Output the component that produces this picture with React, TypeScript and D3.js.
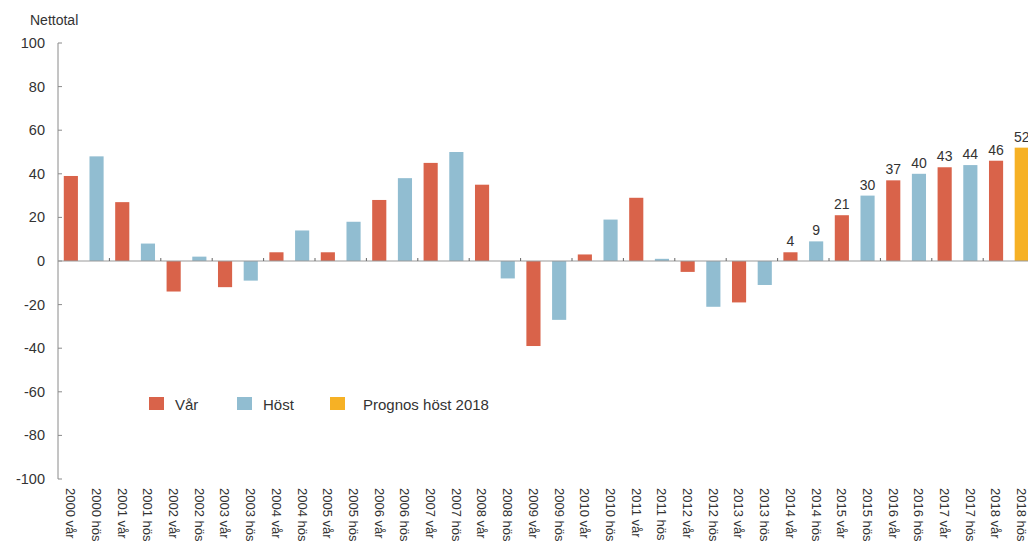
import * as d3 from 'd3';

const YEARS = d3.range(2000, 2019);
const CATEGORIES = YEARS.flatMap(y => [`${y} vår`, `${y} hös`]);

// nettotal per halvår, vår/höst omväxlande
const VALUES = [
  39, 48, 27, 8, -14, 2, -12, -9, 4, 14,
  4, 18, 28, 38, 45, 50, 35, -8, -39, -27,
  3, 19, 29, 1, -5, -21, -19, -11, 4, 9,
  21, 30, 37, 40, 43, 44, 46, 52,
];
const LABEL_FROM = '2014 vår';
const Y_TICKS = [100, 80, 60, 40, 20, 0, -20, -40, -60, -80, -100];

const LEGEND = [
  { label: 'Vår', color: '#d9634a', x: 149, tx: 175 },
  { label: 'Höst', color: '#91bdd1', x: 237, tx: 263 },
  { label: 'Prognos höst 2018', color: '#f6b125', x: 330, tx: 363 },
];

const W = 1028;
const H = 544;
const FONT = '"Liberation Sans", Arial, sans-serif';

const barColor = (i: number) => {
  if (i === CATEGORIES.length - 1) return LEGEND[2].color;
  return i % 2 === 0 ? LEGEND[0].color : LEGEND[1].color;
};

export default function App() {
  const left = 58;
  const step = 25.7;
  const x = d3.scaleBand<string>()
    .domain(CATEGORIES)
    .range([left, left + step * CATEGORIES.length])
    .paddingInner(0.45)
    .paddingOuter(0.225);
  const y = d3.scaleLinear().domain([-100, 100]).range([479, 43]);
  const labelStart = CATEGORIES.indexOf(LABEL_FROM);

  return (
    <svg width={W} height={H} style={{ position: 'absolute', left: 0, top: 0, fontFamily: FONT }}>
      <rect width={W} height={H} fill="#fff" />

      <text x={30} y={25} fontSize={14} fill="#333">Nettotal</text>

      {/* y axis */}
      <line x1={left} x2={left} y1={y(100)} y2={y(-100)} stroke="#8a8a8a" />
      {Y_TICKS.map(t => (
        <g key={t}>
          <line x1={left} x2={left + 4} y1={y(t)} y2={y(t)} stroke="#8a8a8a" />
          <text x={45} y={y(t)} dy="0.35em" textAnchor="end" fontSize={14.5} fill="#333">{t}</text>
        </g>
      ))}

      {/* bars */}
      {VALUES.map((v, i) => (
        <rect key={CATEGORIES[i]}
          x={x(CATEGORIES[i])}
          y={y(Math.max(0, v))}
          width={x.bandwidth()}
          height={Math.abs(y(v) - y(0))}
          fill={barColor(i)} />
      ))}

      {/* zero line with ticks between years */}
      <line x1={left} x2={W} y1={y(0)} y2={y(0)} stroke="#999" />
      {YEARS.slice(1).map((yr, k) => {
        const tx = left + (k + 1) * 2 * x.step();
        return <line key={yr} x1={tx} x2={tx} y1={y(0)} y2={y(0) - 3} stroke="#666" />;
      })}

      {/* value labels */}
      {VALUES.map((v, i) => i >= labelStart && (
        <text key={'l' + i}
          x={(x(CATEGORIES[i]) ?? 0) + x.bandwidth() / 2}
          y={y(v) - 6}
          textAnchor="middle" fontSize={14} fill="#333">{v}</text>
      ))}

      {/* category labels */}
      {CATEGORIES.map(c => (
        <text key={c}
          transform={`translate(${(x(c) ?? 0) + x.bandwidth() / 2},488) rotate(90)`}
          dy="0.35em" fontSize={13} fill="#333">{c}</text>
      ))}

      {/* legend */}
      {LEGEND.map(l => (
        <g key={l.label}>
          <rect x={l.x} y={397} width={15} height={13} fill={l.color} />
          <text x={l.tx} y={410} fontSize={15} fill="#333">{l.label}</text>
        </g>
      ))}
    </svg>
  );
}
